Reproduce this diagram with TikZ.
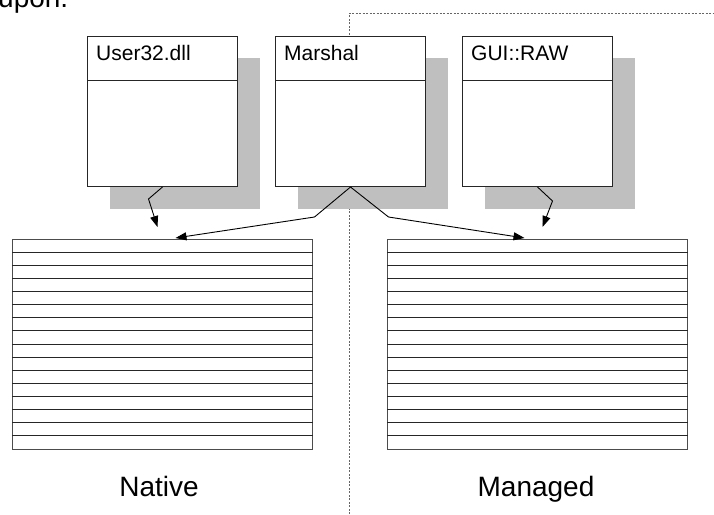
\documentclass[tikz,border=0pt]{standalone}
\usepackage{fontspec}
\setmainfont{Liberation Sans}
\usetikzlibrary{arrows.meta}

\tikzset{
  classbox/.style={draw=black!85, fill=white, line width=1pt, inner sep=0pt,
    minimum width=150pt, minimum height=150pt, anchor=north west},
  boxshadow/.style={fill=black!25, draw=none},
  boxtitle/.style={anchor=base west, inner sep=0pt, font=\fontsize{21}{21}\selectfont},
  memtable/.style={draw=black!70, fill=white, line width=1pt, inner sep=0pt,
    minimum width=300pt, minimum height=210pt, anchor=north west},
  rowline/.style={draw=black!85, line width=1pt},
  caption/.style={anchor=base, inner sep=0pt, font=\fontsize{28}{28}\selectfont},
  conn/.style={draw=black, line width=0.9pt, -{Triangle[length=11pt,width=8pt]}},
  divider/.style={draw=black!60, line width=0.7pt, dash pattern=on 2pt off 1.5pt}
}

\begin{document}
\begin{tikzpicture}[x=1pt,y=-1pt]
\useasboundingbox (0,0) rectangle (714,514);

% trailing words of the preceding sentence, running off the top edge
\node[anchor=base west, inner sep=0pt, font=\fontsize{28}{28}\selectfont] (prevtext) at (-2,7) {upon.};

% native / managed divider
\coordinate (divtop) at (349,13);
\coordinate (divbot) at (349,514);
\coordinate (divend) at (714,13);
\draw[divider] (divbot) -- (divtop) -- (divend);

% class boxes with drop shadows
\foreach \name/\x/\title in {user/87/User32.dll, marshal/275/Marshal, gui/462/GUI::RAW}{
  \fill[boxshadow] (\x+23,58) rectangle (\x+173,209);
  \node[classbox] (\name) at (\x,36) {};
  \draw[draw=black!85, line width=1pt] ([yshift=-44pt]\name.north west) -- ([yshift=-44pt]\name.north east);
  \node[boxtitle] (\name-title) at ([shift={(9,24)}]\name.north west) {\title};
}

% memory tables
\node[memtable] (native) at (12,239) {};
\node[memtable] (managed) at (387,239) {};
\foreach \t in {native, managed}{
  \foreach \i in {1,...,15}{
    \draw[rowline] ([yshift=-\i*13.125pt]\t.north west) -- ([yshift=-\i*13.125pt]\t.north east);
  }
}

% captions
\node[caption] (native-cap) at (159,496) {Native};
\node[caption] (managed-cap) at (536,496) {Managed};

% connectors
\coordinate (nat-a) at ([shift={(-5,-12)}]native.north);
\coordinate (nat-b) at ([shift={(13,-1)}]native.north);
\coordinate (man-a) at ([shift={(-13,-1)}]managed.north);
\coordinate (man-b) at ([shift={(5,-12)}]managed.north);

\draw[conn] (user.south) -- ++(-14,12) -- (nat-a);
\draw[conn] (marshal.south) -- ++(-36,30) -- (nat-b);
\draw[conn] (marshal.south) -- ++(38,30) -- (man-a);
\draw[conn] (gui.south) -- ++(15,14) -- (man-b);
\end{tikzpicture}
\end{document}
